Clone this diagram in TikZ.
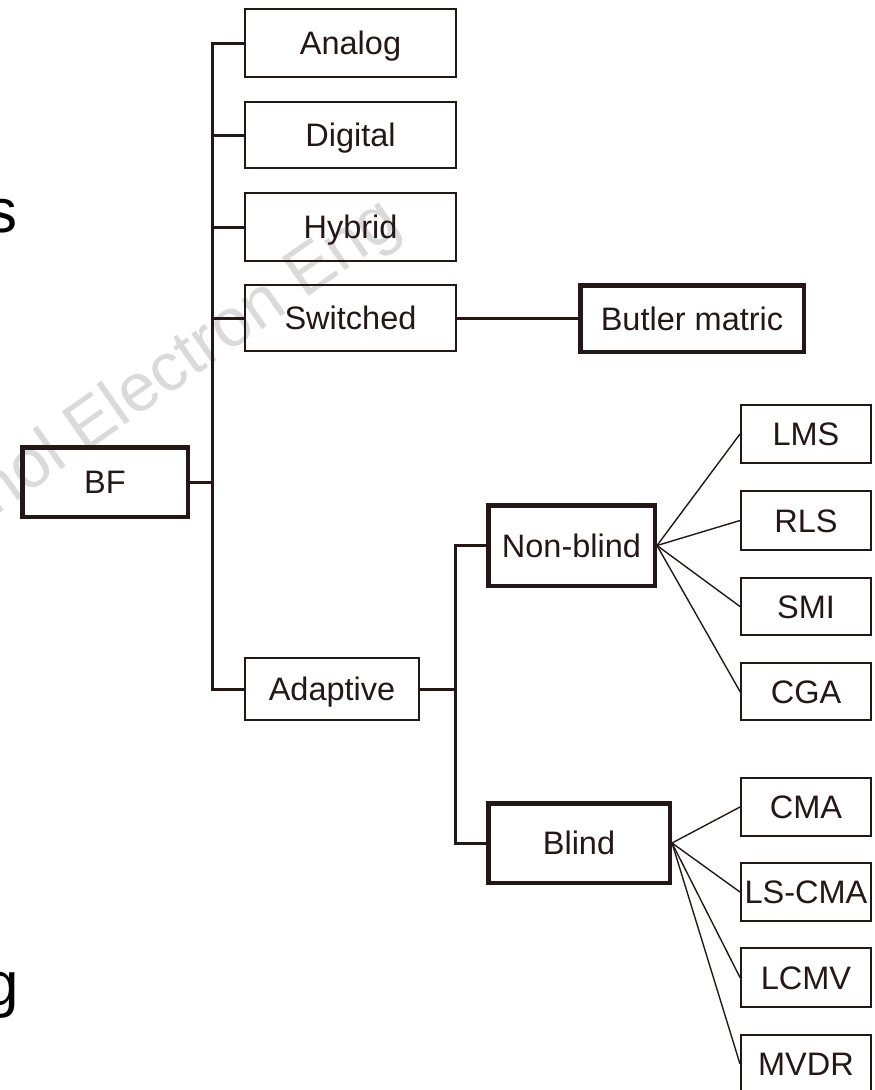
\documentclass[tikz,border=0pt]{standalone}
\usepackage{fontspec}
\setmainfont{Liberation Sans}
\definecolor{ink}{HTML}{231815}
\definecolor{wmark}{HTML}{DADADA}
\begin{document}
\begin{tikzpicture}[x=1pt,y=-1pt,
  box/.style={draw=ink, line width=2pt, inner sep=0pt, text=ink,
    font=\fontsize{32.5}{36}\selectfont, text height=23.4pt, text depth=0pt},
  thickbox/.style={box, line width=4.5pt},
  bus/.style={draw=ink, line width=3pt},
  fan/.style={draw=ink, line width=1.4pt},
  frag/.style={anchor=base west, inner sep=0pt, text=black, font=\fontsize{62}{64}\selectfont}]
\useasboundingbox (0,0) rectangle (875,1090);
\clip (0,0) rectangle (875,1090);
% watermark
\node[rotate=35, anchor=base east, inner sep=0pt, text=wmark,
  font=\fontsize{68}{70}\selectfont] (wm) at (404,230) {Technol Electron Eng};
% fragments of neighbouring text
\node[frag] (fs) at (-14,232) {s};
\node[frag] (fg) at (-16,1005) {g};
% boxes
\node[thickbox, minimum width=165.5pt, minimum height=69.5pt] (bf) at (105,482) {BF};
\node[box, minimum width=211pt, minimum height=68pt] (analog) at (350.5,43) {Analog};
\node[box, minimum width=211pt, minimum height=66pt] (digital) at (350.5,135) {Digital};
\node[box, minimum width=211pt, minimum height=68pt] (hybrid) at (350.5,227) {Hybrid};
\node[box, minimum width=211pt, minimum height=66pt] (switched) at (350.5,318) {Switched};
\node[box, minimum width=174pt, minimum height=62pt] (adaptive) at (332,689) {Adaptive};
\node[thickbox, minimum width=223.5pt, minimum height=66.5pt] (butler) at (692,318.5) {Butler matric};
\node[thickbox, minimum width=166.5pt, minimum height=80.5pt] (nonblind) at (571.5,545.5) {Non-blind};
\node[thickbox, minimum width=181.5pt, minimum height=79.5pt] (blind) at (579,843) {Blind};
\node[box, minimum width=130pt, minimum height=58pt] (lms) at (806,434) {LMS};
\node[box, minimum width=130pt, minimum height=59pt] (rls) at (806,520.5) {RLS};
\node[box, minimum width=130pt, minimum height=57pt] (smi) at (806,606.5) {SMI};
\node[box, minimum width=130pt, minimum height=57pt] (cga) at (806,691.5) {CGA};
\node[box, minimum width=130pt, minimum height=58pt] (cma) at (806,807) {CMA};
\node[box, minimum width=130pt, minimum height=58pt] (lscma) at (806,892) {LS-CMA};
\node[box, minimum width=130pt, minimum height=59pt] (lcmv) at (806,977.5) {LCMV};
\node[box, minimum width=130pt, minimum height=58pt] (mvdr) at (806,1064) {MVDR};
% bus coordinates
\coordinate (bus1) at (212,0);
\coordinate (bus2) at (455,0);
% connectors
\draw[bus] (analog.west) -- (analog.west -| bus1) |- (adaptive.west);
\draw[bus] (digital.west) -- (digital.west -| bus1);
\draw[bus] (hybrid.west) -- (hybrid.west -| bus1);
\draw[bus] (switched.west) -- (switched.west -| bus1);
\draw[bus] (bf.east) -- (bf.east -| bus1);
\draw[bus] (switched.east) -- (switched.east -| butler.west);
\draw[bus] (nonblind.west) -- (nonblind.west -| bus2) |- (blind.west);
\draw[bus] (adaptive.east) -- (adaptive.east -| bus2);
\foreach \c in {lms,rls,smi,cga} \draw[fan] (nonblind.east) -- (\c.west);
\foreach \c in {cma,lscma,lcmv,mvdr} \draw[fan] (blind.east) -- (\c.west);
\end{tikzpicture}
\end{document}
